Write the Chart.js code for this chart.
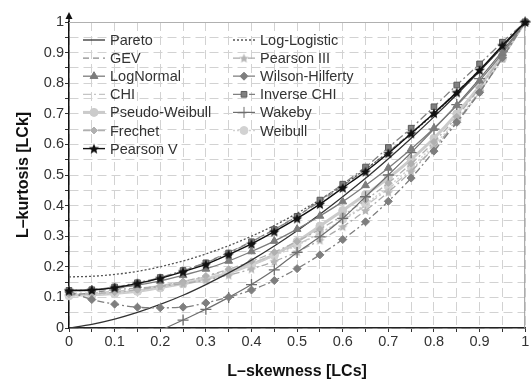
<!DOCTYPE html>
<html>
<head>
<meta charset="utf-8">
<script src="https://cdn.jsdelivr.net/npm/chart.js@4"></script>
<style>
  body { margin: 0; background: #fff; }
</style>
</head>
<body>
<canvas id="lmom" width="532" height="383"></canvas>
<script>
// L-skewness grid the curves were read at
const skew = [0, .05, .1, .15, .2, .25, .3, .35, .4, .45, .5, .55, .6, .65, .7, .75, .8, .85, .9, .95, 1];

const pareto         = [0, .012, .029, .051, .077, .107, .142, .180, .222, .268, .318, .372, .429, .489, .553, .620, .690, .763, .839, .918, 1];
const gev            = [.107, .115, .127, .143, .163, .187, .215, .247, .283, .322, .366, .413, .464, .518, .576, .638, .703, .772, .844, .921, 1];
const logNormal      = [.123, .125, .131, .140, .154, .172, .193, .219, .250, .284, .323, .366, .413, .466, .523, .585, .653, .727, .808, .898, 1];
const chi            = [.113, .115, .120, .128, .139, .152, .168, .188, .212, .240, .273, .310, .352, .400, .455, .517, .590, .670, .770, .880, 1];
const pseudoWeibull  = [.108, .109, .113, .120, .132, .145, .160, .180, .207, .240, .283, .333, .384, .436, .490, .551, .620, .700, .790, .890, 1];
const frechet        = [.110, .112, .117, .125, .137, .152, .170, .192, .218, .248, .283, .323, .368, .418, .474, .537, .608, .690, .785, .890, 1];
const pearsonV       = [.122, .124, .132, .146, .162, .184, .208, .240, .275, .315, .358, .405, .458, .511, .571, .636, .702, .770, .843, .923, 1];
const logLogistic    = [.167, .169, .175, .185, .200, .219, .242, .269, .300, .335, .375, .419, .467, .519, .575, .635, .700, .769, .842, .919, 1];
const pearson3       = [.122, .123, .126, .130, .136, .145, .157, .173, .193, .218, .249, .287, .331, .384, .444, .512, .589, .676, .773, .881, 1];
const wilsonHilferty = [.120, .093, .078, .068, .066, .068, .082, .101, .124, .155, .194, .239, .289, .347, .414, .490, .578, .672, .770, .883, 1];
const inverseChi     = [.123, .125, .134, .148, .165, .188, .213, .245, .282, .322, .365, .418, .470, .526, .590, .653, .723, .794, .863, .934, 1];
const wakeby         = [null, null, null, null, -.008, .026, .061, .100, .142, .190, .247, .298, .358, .429, .500, .573, .650, .730, .815, .905, 1];
const weibull        = [.105, .107, .112, .120, .131, .145, .161, .182, .207, .236, .270, .310, .355, .405, .462, .526, .598, .680, .775, .880, 1];

const FONT = "'Liberation Sans', Arial, sans-serif";

function starImage(fill, stroke, size) {
  const c = document.createElement('canvas');
  c.width = c.height = size;
  const g = c.getContext('2d');
  const cx = size / 2, cy = size / 2 + 0.5, R = size / 2 - 0.5, r = R * 0.45;
  g.beginPath();
  for (let k = 0; k < 10; k++) {
    const a = -Math.PI / 2 + k * Math.PI / 5;
    const rad = k % 2 ? r : R;
    g.lineTo(cx + rad * Math.cos(a), cy + rad * Math.sin(a));
  }
  g.closePath();
  g.fillStyle = fill;
  g.fill();
  if (stroke) { g.strokeStyle = stroke; g.lineWidth = 0.8; g.stroke(); }
  return c;
}

const darkStar = starImage('#111', null, 12);
const lightStar = starImage('#b4b4b4', null, 11);

// legend order: first column then second column
const series = [
  { label: 'Pareto',          data: pareto,         color: '#333', width: 1.3, dash: [],            point: false,       order: 5 },
  { label: 'GEV',             data: gev,            color: '#8a8a8a', width: 1.2, dash: [6, 4],     point: false,       order: 8 },
  { label: 'LogNormal',       data: logNormal,      color: '#7c7c7c', width: 1.3, dash: [],         point: 'triangle',  r: 4.5, order: 2 },
  { label: 'CHI',             data: chi,            color: '#c4c4c4', width: 1.3, dash: [8, 3, 2, 3], point: false,     order: 10 },
  { label: 'Pseudo-Weibull',  data: pseudoWeibull,  color: '#cbcbcb', width: 3,   dash: [],         point: 'circle',    r: 4, order: 12 },
  { label: 'Frechet',         data: frechet,        color: '#b0b0b0', width: 1.3, dash: [7, 3, 2, 3], point: 'rectRot', r: 3.5, order: 9 },
  { label: 'Pearson V',       data: pearsonV,       color: '#111', width: 1.4, dash: [],            point: darkStar,    order: 0 },
  { label: 'Log-Logistic',    data: logLogistic,    color: '#555', width: 1.3, dash: [2, 2],        point: false,       order: 6 },
  { label: 'Pearson III',     data: pearson3,       color: '#ababab', width: 1.3, dash: [7, 3, 2, 3], point: lightStar, order: 7 },
  { label: 'Wilson-Hilferty', data: wilsonHilferty, color: '#7e7e7e', width: 1.3, dash: [7, 3, 2, 3], point: 'rectRot', r: 4, order: 3 },
  { label: 'Inverse CHI',     data: inverseChi,     color: '#808080', width: 1.3, dash: [8, 3, 2, 3], point: 'rect',    r: 4, order: 1, pointBorder: '#5a5a5a' },
  { label: 'Wakeby',          data: wakeby,         color: '#6e6e6e', width: 1.2, dash: [],         point: 'cross',     r: 5.5, order: 4 },
  { label: 'Weibull',         data: weibull,        color: '#d2d2d2', width: 1.5, dash: [2, 2],     point: 'circle',    r: 4, order: 11 }
];

const datasets = series.map(s => ({
  label: s.label,
  data: skew.map((x, i) => ({ x: x, y: s.data[i] })),
  borderColor: s.color,
  borderWidth: s.width,
  borderDash: s.dash,
  pointStyle: s.point || 'circle',
  pointRadius: s.point ? s.data.map(v => (v === null || v < 0) ? 0 : (s.r || 5)) : 0,
  pointBackgroundColor: s.color,
  pointBorderColor: s.pointBorder || s.color,
  pointBorderWidth: s.point === 'cross' ? 1.3 : 1,
  cubicInterpolationMode: 'monotone',
  spanGaps: false,
  order: s.order,
  clip: { left: 6, top: 6, right: 6, bottom: 0 }
}));

function tickLabel(value) {
  const t = Math.round(value * 20);
  return t % 2 === 0 ? String(t / 20) : '';
}

function drawMarker(ctx, s, x, y) {
  const st = s.point;
  if (!st) return;
  if (st instanceof HTMLCanvasElement) {
    ctx.drawImage(st, x - st.width / 2, y - st.height / 2);
    return;
  }
  const r = s.r || 5;
  ctx.save();
  ctx.setLineDash([]);
  ctx.fillStyle = s.color;
  ctx.strokeStyle = s.pointBorder || s.color;
  ctx.lineWidth = 1;
  ctx.beginPath();
  if (st === 'circle') {
    ctx.arc(x, y, r, 0, Math.PI * 2);
  } else if (st === 'triangle') {
    ctx.moveTo(x, y - r);
    ctx.lineTo(x + r * 0.87, y + r * 0.5);
    ctx.lineTo(x - r * 0.87, y + r * 0.5);
    ctx.closePath();
  } else if (st === 'rect') {
    const h = r * 0.71;
    ctx.rect(x - h, y - h, 2 * h, 2 * h);
  } else if (st === 'rectRot') {
    ctx.moveTo(x, y - r); ctx.lineTo(x + r, y); ctx.lineTo(x, y + r); ctx.lineTo(x - r, y);
    ctx.closePath();
  } else if (st === 'cross') {
    ctx.moveTo(x, y - r); ctx.lineTo(x, y + r);
    ctx.moveTo(x - r, y); ctx.lineTo(x + r, y);
    ctx.stroke();
    ctx.restore();
    return;
  }
  ctx.fill();
  ctx.stroke();
  ctx.restore();
}

const decorPlugin = {
  id: 'decor',
  beforeDatasetsDraw(chart) {
    const { ctx, chartArea: a } = chart;
    ctx.save();
    ctx.lineWidth = 1;
    ctx.strokeStyle = '#b0b0b0';
    ctx.beginPath();
    ctx.moveTo(a.left, a.top + 0.5); ctx.lineTo(a.right, a.top + 0.5);
    ctx.stroke();
    ctx.strokeStyle = '#999';
    ctx.beginPath();
    ctx.moveTo(a.right - 0.5, a.top); ctx.lineTo(a.right - 0.5, a.bottom);
    ctx.stroke();
    ctx.restore();
  },
  afterDraw(chart) {
    const { ctx, chartArea: a } = chart;
    ctx.save();
    // arrow on the y axis
    ctx.strokeStyle = '#111';
    ctx.fillStyle = '#111';
    ctx.lineWidth = 1.5;
    ctx.beginPath();
    ctx.moveTo(a.left, a.top); ctx.lineTo(a.left, a.top - 4);
    ctx.stroke();
    ctx.beginPath();
    ctx.moveTo(a.left, a.top - 10);
    ctx.lineTo(a.left - 3.5, a.top - 3);
    ctx.lineTo(a.left + 3.5, a.top - 3);
    ctx.closePath();
    ctx.fill();

    // legend, two columns inside the plot
    ctx.font = '14.5px ' + FONT;
    ctx.textBaseline = 'middle';
    ctx.textAlign = 'left';
    series.forEach((s, i) => {
      const col = i < 7 ? 0 : 1;
      const row = i < 7 ? i : i - 7;
      const x0 = col ? 233 : 83;
      const y = 40 + row * 18.1;
      ctx.save();
      ctx.strokeStyle = s.color;
      ctx.lineWidth = s.width;
      ctx.setLineDash(s.dash);
      ctx.beginPath();
      ctx.moveTo(x0, y); ctx.lineTo(x0 + 22, y);
      ctx.stroke();
      ctx.restore();
      drawMarker(ctx, s, x0 + 11, y);
      ctx.fillStyle = '#333';
      ctx.fillText(s.label, x0 + 27, y + 1);
    });
    ctx.restore();
  }
};

new Chart(document.getElementById('lmom'), {
  type: 'line',
  data: { datasets },
  options: {
    responsive: false,
    animation: false,
    devicePixelRatio: 1,
    layout: { padding: { top: 22, right: 0, bottom: 0, left: 0 } },
    plugins: {
      legend: { display: false },
      tooltip: { enabled: false }
    },
    scales: {
      x: {
        type: 'linear',
        min: 0,
        max: 1,
        ticks: {
          stepSize: 0.05,
          autoSkip: false,
          maxRotation: 0,
          padding: 1,
          color: '#333',
          font: { family: FONT, size: 14.5 },
          callback: tickLabel
        },
        grid: { color: '#d2d2d2', lineWidth: 1, tickLength: 4, tickColor: '#333', drawTicks: true },
        border: { display: true, color: '#222', width: 1.5, dash: [9, 5] },
        title: {
          display: true,
          text: 'L–skewness [LCs]',
          color: '#111',
          font: { family: FONT, size: 16, weight: 'bold' },
          padding: { top: 0, bottom: 2 }
        },
        afterFit(s) { s.height = 55; s.paddingRight = 3; s.paddingLeft = 0; }
      },
      y: {
        type: 'linear',
        min: 0,
        max: 1,
        ticks: {
          stepSize: 0.05,
          autoSkip: false,
          padding: 1,
          color: '#333',
          font: { family: FONT, size: 14.5 },
          callback: tickLabel
        },
        grid: { color: '#d2d2d2', lineWidth: 1, tickLength: 4, tickColor: '#333', drawTicks: true },
        border: { display: true, color: '#111', width: 1.5, dash: [9, 5] },
        title: {
          display: true,
          text: 'L–kurtosis [LCk]',
          color: '#111',
          font: { family: FONT, size: 16, weight: 'bold' },
          padding: { top: 14, bottom: 0 }
        },
        afterFit(s) { s.width = 69; s.paddingTop = 0; s.paddingBottom = 0; }
      }
    }
  },
  plugins: [decorPlugin]
});
</script>
</body>
</html>
